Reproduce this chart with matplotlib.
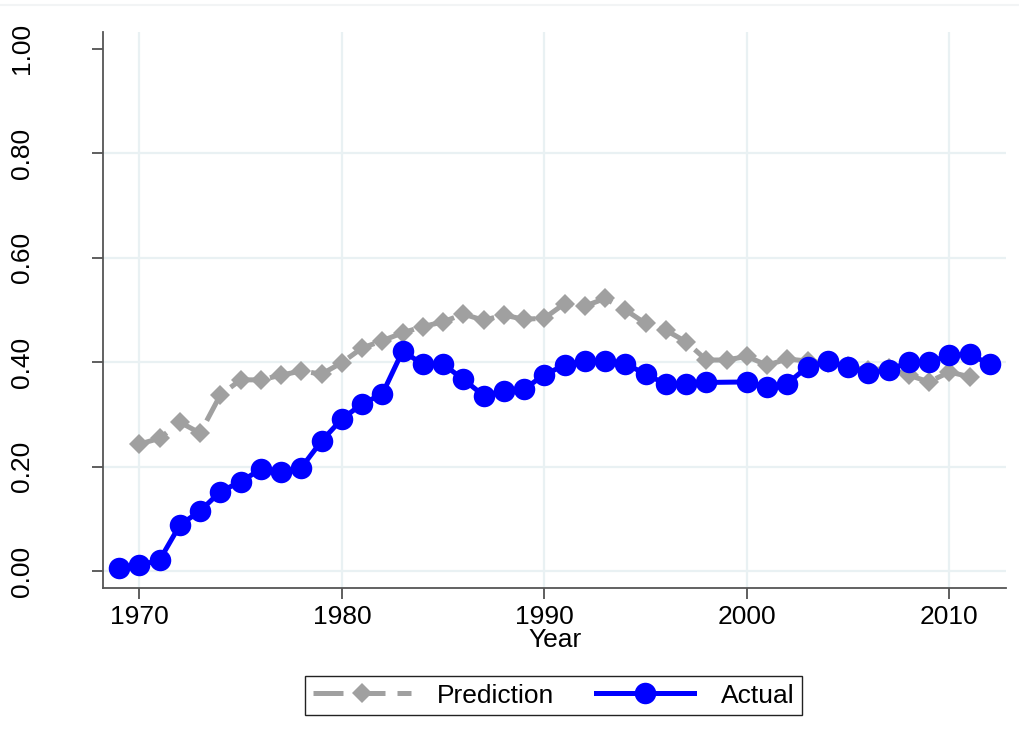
import numpy as np
import matplotlib.pyplot as plt
import matplotlib.ticker as ticker
from matplotlib.lines import Line2D

plt.rcParams["font.family"] = ["Liberation Sans", "DejaVu Sans"]

# ── Gögn (lesin af mynd) ────────────────────────────────────────────────────
years_pred = list(range(1970, 2012))
prediction = [0.243, 0.254, 0.285, 0.264, 0.337, 0.366, 0.366, 0.375, 0.383, 0.377,
              0.399, 0.427, 0.441, 0.456, 0.468, 0.477, 0.492, 0.480, 0.490, 0.482,
              0.484, 0.512, 0.507, 0.522, 0.500, 0.474, 0.461, 0.439, 0.404, 0.404,
              0.411, 0.394, 0.406, 0.402, 0.398, 0.392, 0.385, 0.388, 0.375, 0.362,
              0.381, 0.372]

years_act = [y for y in range(1969, 2013) if y != 1999]
actual = [0.006, 0.011, 0.021, 0.088, 0.115, 0.152, 0.171, 0.195, 0.189, 0.198,
          0.249, 0.291, 0.320, 0.339, 0.421, 0.396, 0.396, 0.367, 0.336, 0.345,
          0.348, 0.376, 0.394, 0.402, 0.402, 0.397, 0.377, 0.358, 0.359, 0.361,
          0.362, 0.352, 0.359, 0.391, 0.402, 0.391, 0.380, 0.385, 0.400, 0.400,
          0.413, 0.415, 0.396]

x_ticks = [1970, 1980, 1990, 2000, 2010]
y_ticks = [0.0, 0.2, 0.4, 0.6, 0.8, 1.0]

GRAY = "#a0a0a0"
BLUE = "#0000ff"
GRID = "#e9f1f3"

fig = plt.figure(figsize=(10.19, 7.51), dpi=100)
ax = fig.add_axes([0.1014, 0.2174, 0.9872 - 0.1014, 0.9574 - 0.2174])

ax.plot(years_pred, prediction, color=GRAY, linewidth=3.6, linestyle=(0, (6, 2.4)),
        marker="D", markersize=10.5, markeredgewidth=0, label="Prediction", zorder=3)
ax.plot(years_act, actual, color=BLUE, linewidth=3.6, marker="o", markersize=15.5,
        markeredgewidth=0, label="Actual", zorder=4)

ax.set_xlim(1968.22, 2012.8)
ax.set_ylim(-0.032, 1.032)
ax.xaxis.set_major_locator(ticker.FixedLocator(x_ticks))
ax.yaxis.set_major_locator(ticker.FixedLocator(y_ticks))
ax.yaxis.set_major_formatter(ticker.FormatStrFormatter("%.2f"))

ax.grid(True, color=GRID, linewidth=1.6, zorder=0)
ax.set_axisbelow(True)
ax.yaxis.get_gridlines()[-1].set_visible(False)

ax.tick_params(axis="x", length=8, width=1.1, color="#333333", labelsize=19, pad=4.5)
ax.tick_params(axis="y", length=8, width=1.1, color="#333333", labelsize=19,
               pad=42, labelrotation=90)
for lbl in ax.get_yticklabels():
    lbl.set_va("center")

ax.spines[["top", "right"]].set_visible(False)
for s in ["left", "bottom"]:
    ax.spines[s].set_color("#555555")
    ax.spines[s].set_linewidth(1.3)

ax.set_xlabel("Year", fontsize=19, labelpad=-1)

# þunn lína efst (rammi Stata)
fig.add_artist(Line2D([0, 1], [0.993, 0.993], transform=fig.transFigure,
                      color="#f2f4f5", linewidth=1.5))

leg = fig.legend(loc="center", bbox_to_anchor=(0.5432, 0.0739), ncol=2,
                 fontsize=19, handlelength=3.7, numpoints=1, fancybox=False,
                 edgecolor="#222222", framealpha=1, columnspacing=1.6,
                 handletextpad=1.0, borderpad=0.3)
leg.get_frame().set_linewidth(1.0)

plt.savefig("out.png", dpi=100)
plt.close()
